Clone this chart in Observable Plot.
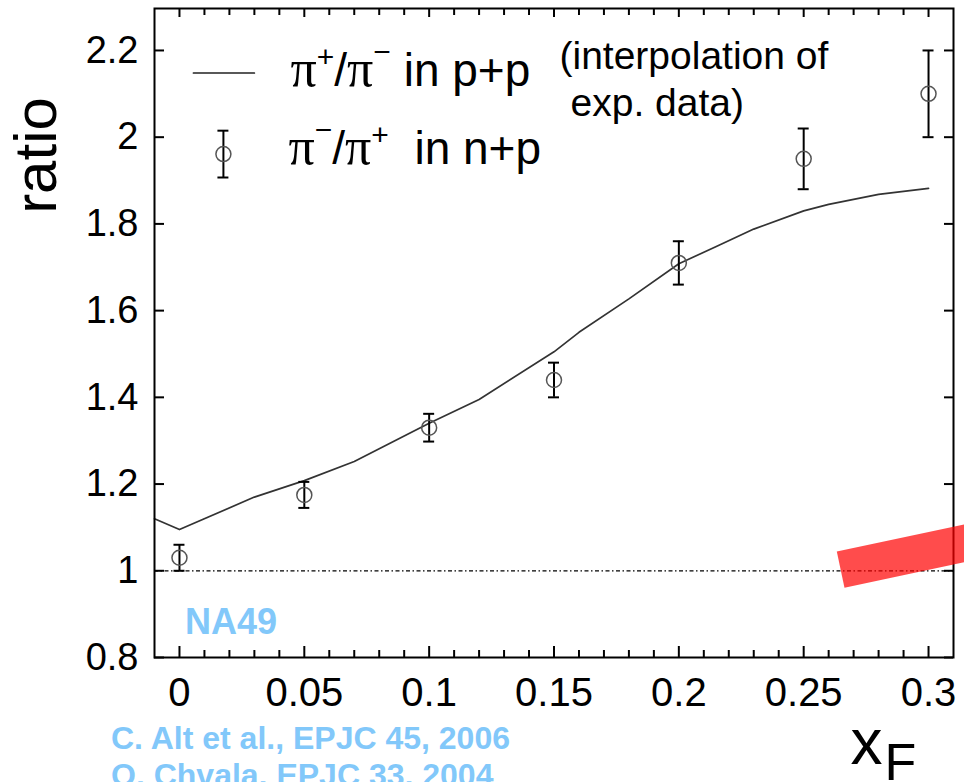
<!DOCTYPE html>
<html><head><meta charset="utf-8">
<script src="https://cdn.jsdelivr.net/npm/d3@7"></script>
<script src="https://cdn.jsdelivr.net/npm/@observablehq/plot@0.6"></script>
<style>html,body{margin:0;padding:0;background:#fff;overflow:hidden}</style>
</head><body><div id="chart"></div>
<script>
// n+p data (NA49): pi-/pi+ ratio vs xF
const xF = [0, 0.05, 0.1, 0.15, 0.2, 0.25, 0.3];
const npRatio = [1.03, 1.175, 1.33, 1.44, 1.71, 1.95, 2.10];
const npErr = [0.03, 0.03, 0.032, 0.04, 0.05, 0.07, 0.10];
// p+p interpolation curve: pi+/pi- ratio
const ppX = [-0.01, 0, 0.03, 0.05, 0.07, 0.10, 0.12, 0.15, 0.16, 0.18, 0.20, 0.215, 0.23, 0.25, 0.26, 0.28, 0.30];
const ppRatio = [1.12, 1.095, 1.17, 1.208, 1.252, 1.34, 1.395, 1.505, 1.55, 1.627, 1.708, 1.748, 1.788, 1.83, 1.845, 1.868, 1.882];
// ticks
const xTicks = [0, 0.05, 0.1, 0.15, 0.2, 0.25, 0.3];
const xTickLabels = ["0", "0.05", "0.1", "0.15", "0.2", "0.25", "0.3"];
const xMinor = [0.01,0.02,0.03,0.04,0.06,0.07,0.08,0.09,0.11,0.12,0.13,0.14,0.16,0.17,0.18,0.19,0.21,0.22,0.23,0.24,0.26,0.27,0.28,0.29];
const yTicks = [0.8, 1, 1.2, 1.4, 1.6, 1.8, 2, 2.2];
const yTickLabels = ["0.8", "1", "1.2", "1.4", "1.6", "1.8", "2", "2.2"];
// legend sample positions (data units)
const legendLineX = [0.0056, 0.030];
const legendLineY = [2.148, 2.148];
const legendDot = [{x: 0.0176, y: 1.961, e: 0.054}];
// red annotation bar
const redBarX = [0.2648, 0.3287];
const redBarY = [1.0028, 1.081];

const pts = xF.map((x, i) => ({x, y: npRatio[i], e: npErr[i]}));
const curve = ppX.map((x, i) => ({x, y: ppRatio[i]}));
const legendLine = legendLineX.map((x, i) => ({x, y: legendLineY[i]}));
const redBar = redBarX.map((x, i) => ({x, y: redBarY[i]}));

const W = 964, H = 782, ML = 154, MR = 11, MT = 8, MB = 125;
const FW = W - ML - MR, FH = H - MT - MB;
const cap = 0.0022;
const blue = "#82c8fa";

const fmtX = d => xTickLabels[xTicks.indexOf(d)];
const fmtY = d => yTickLabels[yTicks.indexOf(d)];

const errMarks = data => [
  Plot.ruleX(data, {x: "x", y1: d => d.y - d.e, y2: d => d.y + d.e, stroke: "black", strokeWidth: 2}),
  Plot.ruleY(data, {y: d => d.y + d.e, x1: d => d.x - cap, x2: d => d.x + cap, stroke: "black", strokeWidth: 2}),
  Plot.ruleY(data, {y: d => d.y - d.e, x1: d => d.x - cap, x2: d => d.x + cap, stroke: "black", strokeWidth: 2}),
  Plot.dot(data, {x: "x", y: "y", r: 7.5, stroke: "#555", strokeWidth: 1.5, fill: "none"})
];

const chart = Plot.plot({
  width: W, height: H,
  marginLeft: ML, marginRight: MR, marginTop: MT, marginBottom: MB,
  style: {fontFamily: "'Liberation Sans', Arial, sans-serif", background: "white", color: "black"},
  x: {domain: [-0.01, 0.31]},
  y: {domain: [0.8, 0.8 + FH / 433.6]},
  marks: [
    Plot.ruleY([1], {stroke: "black", strokeWidth: 1.3, strokeDasharray: "4,2.5,1.5,2.5"}),
    Plot.line(curve, {x: "x", y: "y", stroke: "#333", strokeWidth: 1.7}),
    ...errMarks(pts),
    // legend
    Plot.line(legendLine, {x: "x", y: "y", stroke: "#222", strokeWidth: 1.7}),
    ...errMarks(legendDot),
    Plot.text(["L1"], {frameAnchor: "top-left", dx: 290 - ML, dy: 85 - MT, lineAnchor: "bottom", textAnchor: "start", fontSize: 46, text: d => d}),
    Plot.text(["L2"], {frameAnchor: "top-left", dx: 288 - ML, dy: 163 - MT, lineAnchor: "bottom", textAnchor: "start", fontSize: 46, text: d => d}),
    Plot.text(["(interpolation of"], {frameAnchor: "top-left", dx: 559 - ML, dy: 68.5 - MT, lineAnchor: "bottom", textAnchor: "start", fontSize: 39, text: d => d}),
    Plot.text(["exp. data)"], {frameAnchor: "top-left", dx: 570 - ML, dy: 115.5 - MT, lineAnchor: "bottom", textAnchor: "start", fontSize: 39, text: d => d}),
    // NA49 + references
    Plot.text(["NA49"], {frameAnchor: "bottom-left", dx: 184.5 - ML, dy: 633 - (H - MB), lineAnchor: "bottom", textAnchor: "start", fontSize: 36, fontWeight: "bold", fill: blue, text: d => d}),
    Plot.text(["C. Alt et al., EPJC 45, 2006"], {frameAnchor: "bottom-left", dx: 110.5 - ML, dy: 748 - (H - MB), lineAnchor: "bottom", textAnchor: "start", fontSize: 32, fontWeight: "bold", fill: blue, text: d => d}),
    Plot.text(["O. Chvala, EPJC 33, 2004"], {frameAnchor: "bottom-left", dx: 110.5 - ML, dy: 785 - (H - MB), lineAnchor: "bottom", textAnchor: "start", fontSize: 32, fontWeight: "bold", fill: blue, text: d => d}),
    // axis titles
    Plot.text(["ratio"], {frameAnchor: "top-left", dx: 55 - ML, dy: 155 - MT, rotate: -90, lineAnchor: "bottom", textAnchor: "middle", fontSize: 60, text: d => d}),
    Plot.text(["x"], {frameAnchor: "bottom-right", dx: 850 - (W - MR), dy: 763 - (H - MB), lineAnchor: "bottom", textAnchor: "start", fontSize: 64, text: d => d}),
    Plot.text(["F"], {frameAnchor: "bottom-right", dx: 884 - (W - MR), dy: 779 - (H - MB), lineAnchor: "bottom", textAnchor: "start", fontSize: 52, text: d => d}),
    // ticks (inward)
    Plot.tickX(xTicks, {x: d => d, insetTop: FH - 11, stroke: "black", strokeWidth: 2}),
    Plot.tickX(xMinor, {x: d => d, insetTop: FH - 7, stroke: "black", strokeWidth: 2}),
    Plot.tickX(xTicks, {x: d => d, insetBottom: FH - 9, stroke: "black", strokeWidth: 2}),
    Plot.tickX(xMinor, {x: d => d, insetBottom: FH - 7, stroke: "black", strokeWidth: 2}),
    Plot.tickY(yTicks, {y: d => d, insetRight: FW - 10, stroke: "black", strokeWidth: 2}),
    Plot.tickY(yTicks, {y: d => d, insetLeft: FW - 9, stroke: "black", strokeWidth: 2}),
    Plot.axisX(xTicks, {tickSize: 0, tickPadding: 20, fontSize: 40, tickFormat: fmtX, label: null}),
    Plot.axisY(yTicks, {tickSize: 0, tickPadding: 16, fontSize: 38, tickFormat: fmtY, label: null}),
    Plot.frame({stroke: "black", strokeWidth: 2}),
    // red annotation bar (semi-transparent, on top)
    Plot.line(redBar, {x: "x", y: "y", stroke: "red", strokeOpacity: 0.7, strokeWidth: 37, strokeLinecap: "butt"})
  ]
});
document.getElementById("chart").appendChild(chart);

// rich text for legend labels (serif pi, superscripts)
const NS = "http://www.w3.org/2000/svg";
const serif = "'Liberation Serif', 'DejaVu Serif', serif";
function rich(node, parts) {
  node.textContent = "";
  let shift = 0;
  for (const p of parts) {
    const ts = document.createElementNS(NS, "tspan");
    ts.textContent = p.t;
    if (p.font) ts.setAttribute("font-family", p.font);
    if (p.size) ts.setAttribute("font-size", p.size);
    const up = p.up || 0;
    if (up !== shift) ts.setAttribute("dy", -(up - shift));
    shift = up;
    node.appendChild(ts);
  }
}
d3.select(chart).selectAll("text").each(function () {
  if (this.textContent === "L1") rich(this, [
    {t: "π", font: serif, size: 52}, {t: "+", size: 30, up: 19}, {t: "/"},
    {t: "π", font: serif, size: 52}, {t: "−", size: 30, up: 24}, {t: " in p+p"}
  ]);
  else if (this.textContent === "L2") rich(this, [
    {t: "π", font: serif, size: 52}, {t: "−", size: 30, up: 24}, {t: "/"},
    {t: "π", font: serif, size: 52}, {t: "+", size: 30, up: 19}, {t: "  in n+p"}
  ]);
});
</script>
</body></html>
